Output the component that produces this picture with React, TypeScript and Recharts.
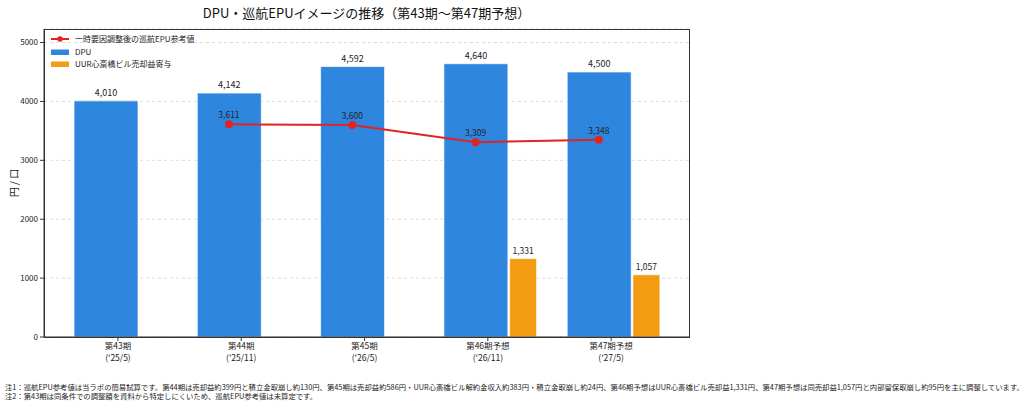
import React from "react";
import {
  ComposedChart,
  Bar,
  Line,
  XAxis,
  YAxis,
  CartesianGrid,
  LabelList,
  Legend,
} from "recharts";

const periods = ["第43期", "第44期", "第45期", "第46期予想", "第47期予想"];
const months = ["('25/5)", "('25/11)", "('26/5)", "('26/11)", "('27/5)"];
const dpu = [4010, 4142, 4592, 4640, 4500];
const cruiseEpu = [null, 3611, 3600, 3309, 3348];
const saleGain = [null, null, null, 1331, 1057];
const yTicks = [0, 1000, 2000, 3000, 4000, 5000];

const title = "DPU・巡航EPUイメージの推移（第43期〜第47期予想）";
const notes = [
  "注1：巡航EPU参考値は当ラボの簡易試算です。第44期は売却益約399円と積立金取崩し約130円、第45期は売却益約586円・UUR心斎橋ビル解約金収入約383円・積立金取崩し約24円、第46期予想はUUR心斎橋ビル売却益1,331円、第47期予想は同売却益1,057円と内部留保取崩し約95円を主に調整しています。",
  "注2：第43期は同条件での調整額を資料から特定しにくいため、巡航EPU参考値は未算定です。",
];

const BLUE = "#2e86de";
const ORANGE = "#f39c12";
const RED = "#e02424";
const FONT = '"Noto Sans CJK JP", "Noto Sans", sans-serif';

// plot area (matches chart margins + axis sizes below)
const PLOT = { left: 44, top: 29, right: 689, bottom: 337 };

const rows = periods.map((p, i) => ({
  period: p,
  month: months[i],
  dpu: dpu[i],
  epu: cruiseEpu[i],
  sale: saleGain[i],
}));

const legendItems = [
  { name: "一時要因調整後の巡航EPU参考値", color: RED, kind: "line" },
  { name: "DPU", color: BLUE, kind: "bar" },
  { name: "UUR心斎橋ビル売却益寄与", color: ORANGE, kind: "bar" },
];

const fmt = (v: any) => (v == null ? "" : Number(v).toLocaleString("en-US"));

function PeriodTick(props: any) {
  const { x, y, payload } = props;
  return (
    <text x={x} y={y} textAnchor="middle" fontSize={8.5} fill="#222" fontFamily={FONT}>
      <tspan x={x} dy={6}>{payload.value}</tspan>
      <tspan x={x} dy={12}>{months[payload.index]}</tspan>
    </text>
  );
}

function LegendBox() {
  return (
    <div style={{ fontFamily: FONT, fontSize: 8, color: "#222", lineHeight: "12.5px" }}>
      {legendItems.map((it) => (
        <div key={it.name} style={{ display: "flex", alignItems: "center", height: 12.5 }}>
          <svg width={18} height={10} style={{ marginRight: 6 }}>
            {it.kind === "line" ? (
              <>
                <line x1={0} y1={5} x2={18} y2={5} stroke={it.color} strokeWidth={2} />
                <circle cx={9} cy={5} r={2.8} fill={it.color} />
              </>
            ) : (
              <rect x={0} y={2.5} width={18} height={5.5} fill={it.color} />
            )}
          </svg>
          <span>{it.name}</span>
        </div>
      ))}
    </div>
  );
}

export default function App() {
  return (
    <div
      style={{
        position: "absolute",
        left: 0,
        top: 0,
        width: 1024,
        height: 407,
        background: "#fff",
        fontFamily: FONT,
      }}
    >
      <div
        style={{
          position: "absolute",
          left: 0,
          top: 3,
          width: 733,
          textAlign: "center",
          fontSize: 13,
          color: "#111",
        }}
      >
        {title}
      </div>
      <ComposedChart
        width={1024}
        height={407}
        data={rows}
        margin={{ top: PLOT.top, right: 1024 - PLOT.right, bottom: 40, left: 4 }}
        style={{ fontFamily: FONT }}
      >
        <CartesianGrid
          yAxisId="left"
          xAxisId="tick"
          vertical={false}
          stroke="#dcdcdc"
          strokeDasharray="3 3"
        />
        <XAxis xAxisId="bar" dataKey="period" hide height={0} padding={{ left: 0, right: 28.5 }} />
        <XAxis xAxisId="side" dataKey="period" hide height={0} padding={{ left: 47.7, right: -19.2 }} />
        <XAxis
          xAxisId="tick"
          dataKey="period"
          height={30}
          padding={{ left: 12.3, right: 16.2 }}
          interval={0}
          tick={<PeriodTick />}
          tickSize={4}
          tickLine={{ stroke: "#333" }}
          axisLine={{ stroke: "#333" }}
        />
        <YAxis
          yAxisId="left"
          width={40}
          domain={[0, 5230]}
          ticks={yTicks}
          interval={0}
          tickSize={4}
          tickMargin={2}
          tick={{ fontSize: 8, fill: "#222" }}
          tickLine={{ stroke: "#333" }}
          axisLine={{ stroke: "#333" }}
          label={{
            content: (p: any) => {
              const vb = p.viewBox;
              const cx = vb.x + 9;
              const cy = vb.y + vb.height / 2;
              return (
                <text
                  x={cx}
                  y={cy}
                  transform={`rotate(-90 ${cx} ${cy})`}
                  textAnchor="middle"
                  dominantBaseline="central"
                  fontSize={10}
                  fill="#222"
                >
                  円 / 口
                </text>
              );
            },
          }}
        />
        <Legend
          layout="vertical"
          align="center"
          verticalAlign="middle"
          content={<LegendBox />}
          wrapperStyle={{ position: "absolute", left: 51, top: 33, width: "auto", height: "auto" }}
        />
        <Bar
          xAxisId="bar"
          yAxisId="left"
          dataKey="dpu"
          name="DPU"
          fill={BLUE}
          stroke="#ffffff"
          strokeWidth={0.7}
          barSize={64}
          isAnimationActive={false}
        >
          <LabelList dataKey="dpu" position="top" offset={5} formatter={fmt} fontSize={9} fill="#222" />
        </Bar>
        <Bar
          xAxisId="side"
          yAxisId="left"
          dataKey="sale"
          name="UUR心斎橋ビル売却益寄与"
          fill={ORANGE}
          stroke="#ffffff"
          strokeWidth={0.7}
          barSize={27}
          isAnimationActive={false}
        >
          <LabelList dataKey="sale" position="top" offset={5} formatter={fmt} fontSize={8.5} fill="#222" />
        </Bar>
        <Line
          xAxisId="bar"
          yAxisId="left"
          dataKey="epu"
          name="一時要因調整後の巡航EPU参考値"
          stroke={RED}
          strokeWidth={2}
          dot={{ r: 3, fill: RED, stroke: RED }}
          isAnimationActive={false}
        >
          <LabelList dataKey="epu" position="top" offset={6} formatter={fmt} fontSize={8.5} fill="#222" />
        </Line>
      </ComposedChart>
      {/* axes frame, like matplotlib spines */}
      <div
        style={{
          position: "absolute",
          left: PLOT.left - 0.5,
          top: PLOT.top - 0.5,
          width: PLOT.right - PLOT.left + 1,
          height: PLOT.bottom - PLOT.top + 1,
          border: "1px solid #333",
          boxSizing: "border-box",
          pointerEvents: "none",
        }}
      />
      <div
        style={{
          position: "absolute",
          left: 5,
          top: 382,
          fontSize: 7.35,
          lineHeight: "9px",
          color: "#222",
          whiteSpace: "nowrap",
        }}
      >
        {notes.map((n) => (
          <div key={n}>{n}</div>
        ))}
      </div>
    </div>
  );
}
